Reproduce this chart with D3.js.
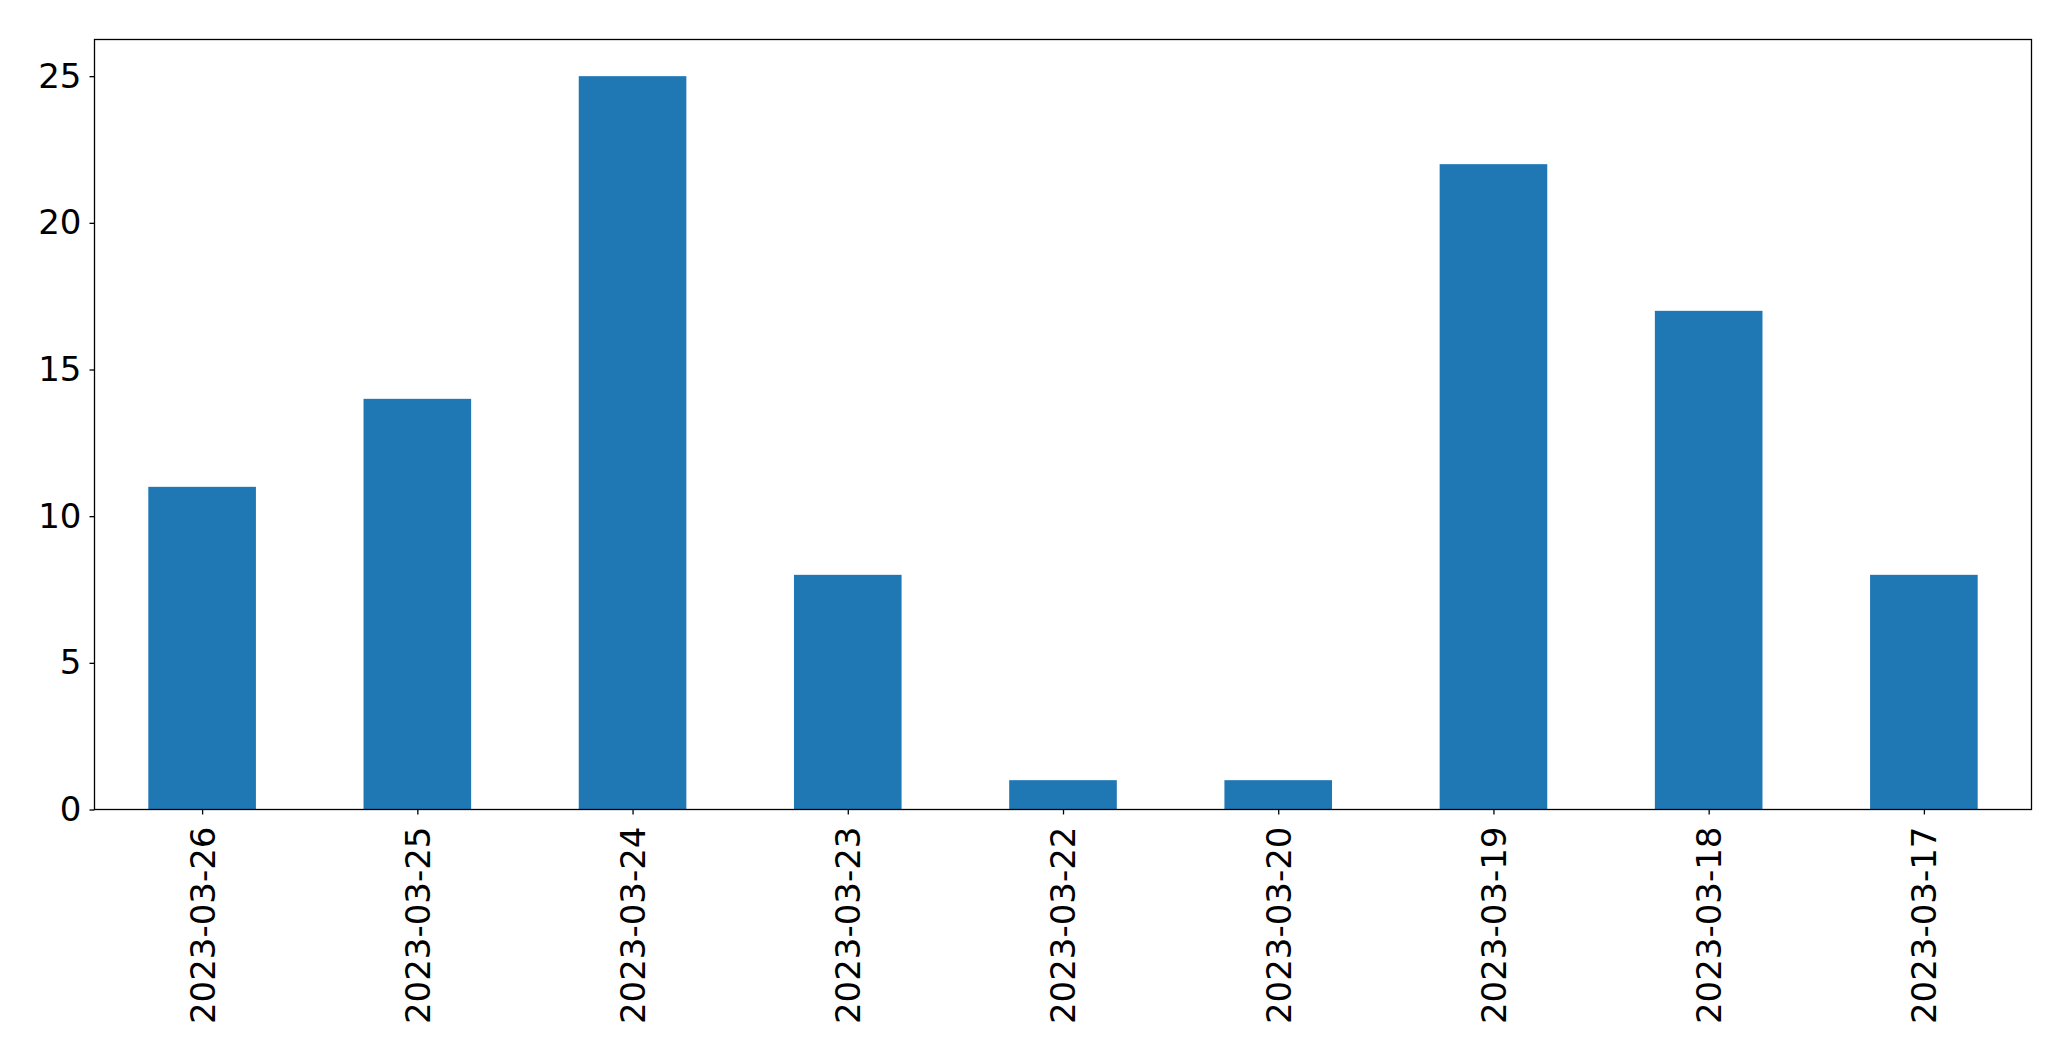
<!DOCTYPE html>
<html>
<head>
<meta charset="utf-8">
<script src="https://cdn.jsdelivr.net/npm/d3@7"></script>
<style>
html,body{margin:0;padding:0;background:#fff;}
svg{display:block;}
</style>
</head>
<body>
<svg id="chart" width="2071" height="1061"></svg>
<script>
const categories = ["2023-03-26","2023-03-25","2023-03-24","2023-03-23","2023-03-22","2023-03-20","2023-03-19","2023-03-18","2023-03-17"];
const values = [11, 14, 25, 8, 1, 1, 22, 17, 8];
const yTicks = [0, 5, 10, 15, 20, 25];

const W = 2071, H = 1061;
const margin = {left: 94.5, right: 2071 - 2031.5, top: 39.5, bottom: 1061 - 809.5};
const svg = d3.select("#chart");
const x0 = margin.left, x1 = W - margin.right, y0 = H - margin.bottom, y1 = margin.top;

const x = d3.scaleLinear().domain([-0.5, categories.length - 0.5]).range([x0, x1]);
const y = d3.scaleLinear().domain([0, d3.max(values) * 1.05]).range([y0, y1]);
const barW = 0.5;
const font = "DejaVu Sans";
const fs = 34;

svg.append("g").selectAll("rect").data(values).join("rect")
  .attr("x", (d, i) => x(i - barW / 2))
  .attr("width", (d, i) => x(i + barW / 2) - x(i - barW / 2))
  .attr("y", d => y(d))
  .attr("height", d => y(0) - y(d))
  .attr("fill", "#1f77b4");

// Y axis
const yAxis = d3.axisLeft(y).tickValues(yTicks).tickSize(5).tickPadding(8).tickFormat(d3.format("d"));
const gy = svg.append("g").attr("transform", `translate(${x0},0)`).call(yAxis);
gy.select(".domain").remove();
gy.selectAll("line").attr("stroke", "#000").attr("stroke-width", 1.3);
gy.selectAll("text").attr("font-family", font).attr("font-size", fs).attr("fill", "#000");

// X axis
const xAxis = d3.axisBottom(x).tickValues(d3.range(categories.length)).tickSize(5).tickFormat(i => categories[i]);
const gx = svg.append("g").attr("transform", `translate(0,${y0})`).call(xAxis);
gx.select(".domain").remove();
gx.selectAll("line").attr("stroke", "#000").attr("stroke-width", 1.3);
gx.selectAll("text")
  .attr("font-family", font).attr("font-size", fs).attr("fill", "#000")
  .attr("transform", "rotate(-90)")
  .attr("text-anchor", "end")
  .attr("x", -17).attr("y", 0).attr("dy", "0.35em");

// Frame
svg.append("rect").attr("x", x0).attr("y", y1).attr("width", x1 - x0).attr("height", y0 - y1)
  .attr("fill", "none").attr("stroke", "#000").attr("stroke-width", 1.3);
</script>
</body>
</html>
